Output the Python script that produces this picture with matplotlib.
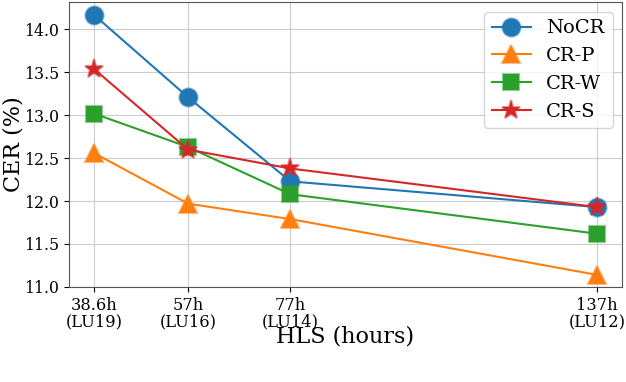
import numpy as np
import matplotlib
matplotlib.use('Agg')
import matplotlib.pyplot as plt
from matplotlib.colors import to_rgba

hours = [38.6, 57, 77, 137]
tick_labels = ['38.6h\n(LU19)', '57h\n(LU16)', '77h\n(LU14)', '137h\n(LU12)']

series_names = ['NoCR', 'CR-P', 'CR-W', 'CR-S']
nocr = [14.17, 13.21, 12.23, 11.93]
cr_p = [12.56, 11.97, 11.79, 11.14]
cr_w = [13.02, 12.63, 12.08, 11.62]
cr_s = [13.54, 12.60, 12.38, 11.93]

plt.rcParams['font.family'] = 'DejaVu Serif'

fig, ax = plt.subplots(figsize=(6.26, 3.82), dpi=100)
fig.subplots_adjust(left=0.110, right=0.994, top=0.995, bottom=0.249)

markers = ['o', '^', 's', '*']
colors = ['#1f77b4', '#ff7f0e', '#2ca02c', '#d62728']
sizes = [13, 13, 12, 14]
for name, vals, m, c, s in zip(series_names, [nocr, cr_p, cr_w, cr_s], markers, colors, sizes):
    ax.plot(hours, vals, marker=m, color=c, markersize=s, linewidth=1.5,
            markeredgecolor=to_rgba(c, 0.5), markeredgewidth=1.5, label=name)

ax.set_xticks(hours)
ax.set_xticklabels(tick_labels, fontsize=11.7, linespacing=0.95)
ax.tick_params(axis='y', labelsize=11.3)
ax.set_ylim(bottom=11.0)
ax.set_yticks(np.arange(11.0, 14.01, 0.5))
ax.grid(True, color='#cccccc', linewidth=0.8)
for sp in ax.spines.values():
    sp.set_color('#555555')

ax.set_xlabel('HLS (hours)', fontsize=16)
ax.set_ylabel('CER (%)', fontsize=16)
ax.yaxis.set_label_coords(-0.080, 0.5)
ax.xaxis.set_label_coords(0.5, -0.137)
ax.legend(loc='upper right', fontsize=14, handlelength=2.0)

fig.savefig('out.png', dpi=100)
